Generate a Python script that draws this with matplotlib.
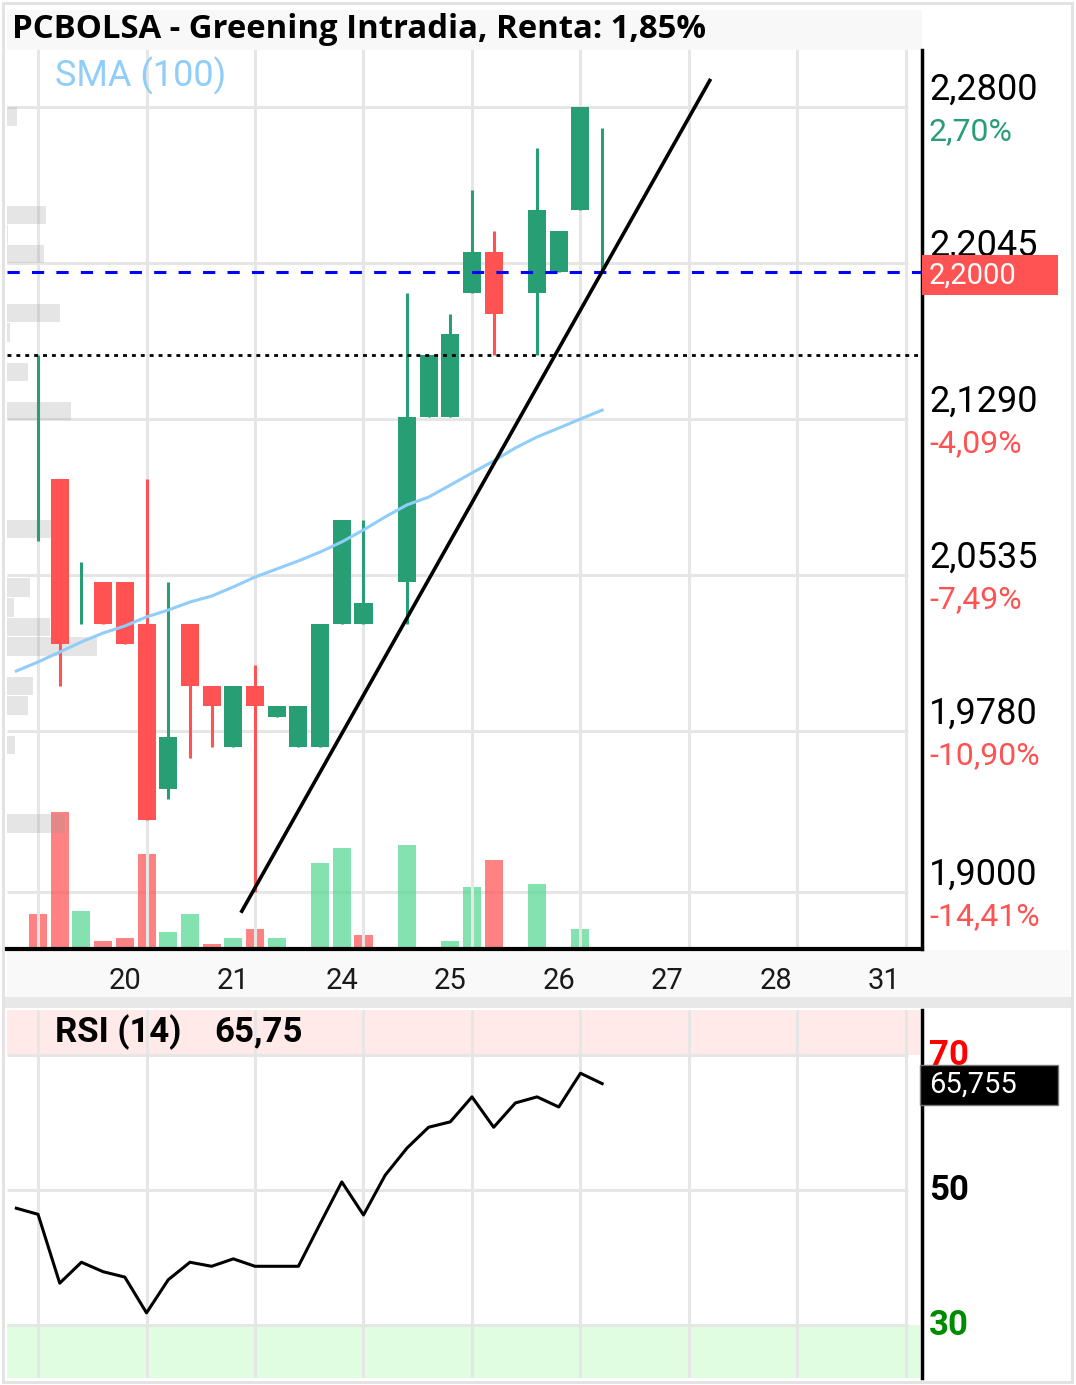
import numpy as np
import matplotlib.pyplot as plt
import matplotlib.transforms as mtransforms
from matplotlib.patches import Rectangle

plt.rcParams['font.family'] = ['Roboto', 'DejaVu Sans']

title = 'PCBOLSA - Greening Intradia, Renta: 1,85%'

# velas (posicion en el eje, apertura, maximo, minimo, cierre)
pos    = [0, 1, 2, 3, 4, 5, 6, 7, 8, 9, 10, 11, 12, 13, 14, 15, 17, 18, 19, 20, 21, 23, 24, 25, 26]
opens  = [2.07, 2.10, 2.03, 2.05, 2.05, 2.03, 1.95, 2.03, 2.00, 1.97, 2.00, 1.985, 1.97, 1.97, 2.03, 2.03,
          2.05, 2.13, 2.13, 2.19, 2.21, 2.19, 2.20, 2.23, 2.20]
highs  = [2.16, 2.10, 2.06, 2.05, 2.05, 2.10, 2.05, 2.03, 2.00, 2.00, 2.01, 1.99, 1.99, 2.03, 2.08, 2.08,
          2.19, 2.16, 2.18, 2.24, 2.22, 2.26, 2.22, 2.28, 2.27]
lows   = [2.07, 2.00, 2.03, 2.03, 2.02, 1.935, 1.945, 1.965, 1.97, 1.97, 1.90, 1.985, 1.97, 1.97, 2.03, 2.03,
          2.03, 2.13, 2.13, 2.19, 2.16, 2.16, 2.20, 2.23, 2.20]
closes = [2.07, 2.02, 2.03, 2.03, 2.02, 1.935, 1.975, 2.00, 1.99, 2.00, 1.99, 1.99, 1.99, 2.03, 2.08, 2.04,
          2.13, 2.16, 2.17, 2.21, 2.18, 2.23, 2.22, 2.28, 2.20]
volume = [33, 135, 36, 6, 9, 93, 15, 33, 3, 9, 18, 9, 0, 84, 99, 12, 102, 0, 6, 60, 87, 63, 0, 18, 0]
vol_up = [0, 0, 1, 0, 0, 0, 1, 1, 0, 1, 0, 1, 1, 1, 1, 0, 1, 1, 1, 1, 0, 1, 1, 1, 1]

# media movil y RSI (una lectura por posicion, desde -1)
line_pos = list(range(-1, 27))
sma = [2.0070, 2.0114, 2.0162, 2.0211, 2.0254, 2.0288, 2.0332, 2.0365, 2.0404, 2.0433, 2.0477, 2.0525,
       2.0564, 2.0603, 2.0646, 2.0695, 2.0753, 2.0816, 2.0874, 2.0912, 2.0970, 2.1029, 2.1087, 2.1150,
       2.1203, 2.1246, 2.1290, 2.1333]
rsi = [47.3, 46.4, 36.2, 39.3, 37.9, 37.1, 31.8, 36.7, 39.3, 38.7, 39.8, 38.7, 38.7, 38.7, 45.0, 51.2,
       46.3, 52.2, 56.2, 59.3, 60.1, 63.8, 59.3, 62.9, 63.8, 62.3, 67.3, 65.76]

# perfil de volumen por precio
prof_price = [2.2753, 2.2278, 2.2183, 2.2088, 2.1803, 2.1708, 2.1518, 2.1328, 2.0758, 2.0473, 2.0378,
              2.0283, 2.0188, 1.9998, 1.9903, 1.9713, 1.9333]
prof_vol = [10, 39, 1, 37, 53, 3, 21, 64, 62, 23, 7, 43, 90, 26, 21, 8, 58]

levels = [2.28, 2.2045, 2.129, 2.0535, 1.978, 1.90]
level_txt = ['2,2800', '2,2045', '2,1290', '2,0535', '1,9780', '1,9000']
pct_txt = ['2,70%', '', '-4,09%', '-7,49%', '-10,90%', '-14,41%']
last_price = 2.20
last_txt = '2,2000'
ref_line = 2.16

day_pos = [4, 9, 14, 19, 24, 29, 34, 39]
day_txt = ['20', '21', '24', '25', '26', '27', '28', '31']

trend_x = [9.35, 31.0]
trend_y = [1.890, 2.2936]

rsi_last = '65,755'

GREEN = '#279e74'
RED = '#ff5252'
GRID = '#e6e6e6'

W, H = 1076, 1385
fig = plt.figure(figsize=(W / 100, H / 100), dpi=100)

def box(x0, y0, x1, y1):
    return [x0 / W, 1 - y1 / H, (x1 - x0) / W, (y1 - y0) / H]

# marcos de fondo
fig.add_artist(Rectangle((7 / W, 1 - 50 / H), 915 / W, 40 / H, transform=fig.transFigure,
                         facecolor='#f8f8f8', edgecolor='none', zorder=0))
fig.add_artist(Rectangle((7 / W, 1 - 997 / H), 1063 / W, 47 / H, transform=fig.transFigure,
                         facecolor='#f9f9f9', edgecolor='none', zorder=0))
fig.add_artist(Rectangle((3 / W, 1 - 1008 / H), 1069 / W, 11 / H, transform=fig.transFigure,
                         facecolor='#e8e8e8', edgecolor='none', zorder=0))
fig.add_artist(Rectangle((3 / W, 1 - 1382 / H), 1069 / W, 1379 / H, transform=fig.transFigure,
                         facecolor='none', edgecolor='#e3e3e3', lw=2.2, zorder=0))

ax = fig.add_axes(box(7, 50, 922, 949))
ax.set_xlim(-1.43, 40.74)
ax.set_ylim(1.87247, 2.30759)
ax.patch.set_visible(False)

# rejilla
ax.set_xticks(range(0, 41, 5), minor=True)
ax.grid(which='minor', axis='x', color=GRID, lw=2.2, zorder=0)
ax.hlines(levels, -1.43, 40.1, color=GRID, lw=2.2, zorder=0)

# volumen
vol_trans = mtransforms.blended_transform_factory(
    ax.transData, mtransforms.Affine2D().scale(1, 1 / 899) + ax.transAxes)
vol_cols = ['#54d891' if u else '#ff5252' for u in vol_up]
ax.bar(pos, volume, width=0.83, bottom=2, color=vol_cols, alpha=0.72, transform=vol_trans, zorder=1)

# perfil de volumen
prof_trans = mtransforms.blended_transform_factory(
    mtransforms.Affine2D().scale(1 / 915, 1) + ax.transAxes, ax.transData)
ax.barh(prof_price, prof_vol, height=0.009, left=0, color='#999999', alpha=0.25,
        transform=prof_trans, zorder=2)

# velas
cols = [GREEN if c >= o else RED for o, c in zip(opens, closes)]
ax.vlines(pos, lows, highs, colors=cols, lw=2.2, zorder=3)
ax.bar(pos, [abs(c - o) for o, c in zip(opens, closes)], bottom=[min(o, c) for o, c in zip(opens, closes)],
       width=0.83, color=cols, zorder=4)

ax.plot(line_pos, sma, color='#90cdf8', lw=2.2, zorder=5)
ax.axhline(ref_line, color='black', lw=2.0, ls=(0, (1.4, 1.8)), zorder=5)
ax.axhline(last_price, color='#0000ff', lw=2.2, ls=(0, (4, 4)), zorder=5)
ax.plot(trend_x, trend_y, color='black', lw=2.6, zorder=6, solid_capstyle='butt')

for s in ['top', 'left']:
    ax.spines[s].set_visible(False)
ax.spines['right'].set_color('black')
ax.spines['right'].set_linewidth(2.5)
ax.spines['bottom'].set_color('black')
ax.spines['bottom'].set_linewidth(3)
ax.set_yticks([])
ax.set_xticks(day_pos)
ax.set_xticklabels(day_txt, fontsize=21, color='#1a1a1a')
ax.tick_params(axis='x', which='both', length=0, pad=13)

# etiquetas de precio
for lv, t, p in zip(levels, level_txt, pct_txt):
    ax.annotate(t, xy=(1, lv), xycoords=('axes fraction', 'data'), xytext=(7, 7),
                textcoords='offset pixels', fontsize=26, color='black', va='baseline',
                annotation_clip=False)
    if p:
        ax.annotate(p, xy=(1, lv), xycoords=('axes fraction', 'data'), xytext=(7, -33),
                    textcoords='offset pixels', fontsize=23, va='baseline', annotation_clip=False,
                    color=GREEN if not p.startswith('-') else RED)

bt = mtransforms.blended_transform_factory(ax.transAxes, ax.transData)
h_box = 40 * 0.000484
ax.add_patch(Rectangle((1.0, last_price - h_box / 2 - 0.0015), 136 / 915, h_box, transform=bt,
                       facecolor=RED, edgecolor='none', clip_on=False, zorder=10))
ax.annotate(last_txt, xy=(1, last_price - 0.0015), xycoords=('axes fraction', 'data'), xytext=(7, 0),
            textcoords='offset pixels', fontsize=21, color='white', va='center',
            annotation_clip=False, zorder=11)

fig.text(12 / W, 1 - 29 / H, title, fontsize=23.7, fontweight='bold', family=['Open Sans', 'DejaVu Sans'],
         va='center', ha='left', color='black')
fig.text(55 / W, 1 - 76 / H, 'SMA (100)', fontsize=26, color='#90cdf8', va='center', ha='left')

# panel RSI
ar = fig.add_axes(box(7, 1010, 922, 1378))
ar.set_xlim(-1.43, 40.74)
ar.set_ylim(22.15, 76.67)
ar.axhspan(70, 76.67, xmax=(920 - 7) / 915, color='#ffe9e9', lw=0, zorder=0)
ar.axhspan(22.15, 30, xmax=(920 - 7) / 915, color='#e0fde1', lw=0, zorder=0)
ar.set_xticks(range(0, 41, 5), minor=True)
ar.grid(which='minor', axis='x', color=GRID, lw=2.2, zorder=1)
ar.hlines([70, 50, 30], -1.43, 40.1, color=GRID, lw=2.2, zorder=1)
ar.plot(line_pos, rsi, color='black', lw=2.2, zorder=3)
for s in ['top', 'left', 'bottom']:
    ar.spines[s].set_visible(False)
ar.spines['right'].set_color('black')
ar.spines['right'].set_linewidth(2.5)
ar.set_xticks([])
ar.set_yticks([])
ar.tick_params(which='both', length=0)

for v, c in zip([70, 50, 30], ['#ff0000', 'black', '#008c00']):
    ar.annotate(str(v), xy=(1, v), xycoords=('axes fraction', 'data'), xytext=(7, 0),
                textcoords='offset pixels', fontsize=25, fontweight='bold', color=c, va='center',
                annotation_clip=False)

bt2 = mtransforms.blended_transform_factory(ar.transAxes, ar.transData)
ar.add_patch(Rectangle((1 - 2 / 915, rsi[-1] - 20 / 6.75 - 0.2), 138 / 915, 40 / 6.75, transform=bt2,
                       facecolor='black', edgecolor='#777777', lw=1, clip_on=False, zorder=10))
ar.annotate(rsi_last, xy=(1, rsi[-1] - 0.2), xycoords=('axes fraction', 'data'), xytext=(7, 0),
            textcoords='offset pixels', fontsize=21, color='white', va='center',
            annotation_clip=False, zorder=11)

fig.text(55 / W, 1 - 1032 / H, 'RSI (14)', fontsize=25, fontweight='bold', va='center', ha='left')
fig.text(214 / W, 1 - 1032 / H, '65,75', fontsize=25, fontweight='bold', va='center', ha='left')

fig.savefig('out.png', dpi=100)
